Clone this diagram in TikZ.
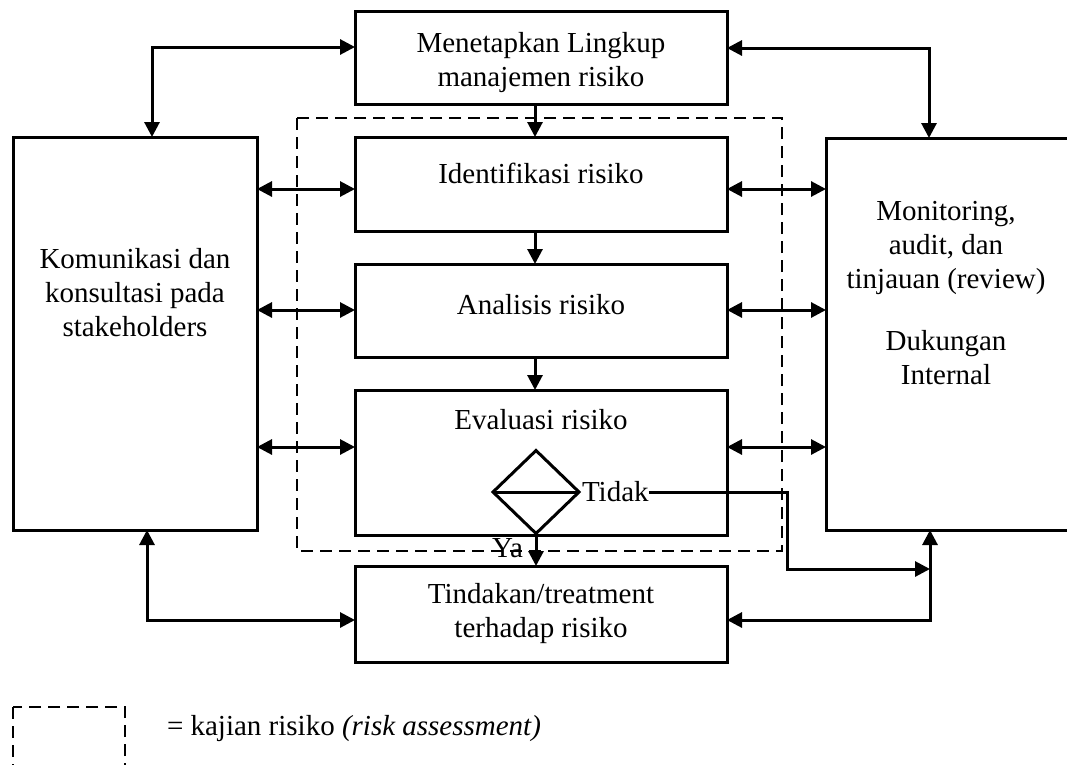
\documentclass[tikz,border=0pt]{standalone}
\usepackage{fontspec}
\setmainfont{Liberation Serif}
\usetikzlibrary{arrows.meta,shapes.geometric}
\begin{document}
\begin{tikzpicture}[x=1pt,y=-1pt,
  line width=3pt,
  every node/.style={font=\fontsize{29}{34}\selectfont},
  box/.style={draw, line width=3pt, inner sep=0pt, outer sep=0pt, anchor=north west},
  lbl/.style={inner sep=0pt, outer sep=0pt, align=center, anchor=north},
  word/.style={inner sep=0pt, outer sep=0pt, anchor=base west},
  arr/.style={-{Triangle[length=15pt,width=15pt]}},
  darr/.style={{Triangle[length=15pt,width=15pt]}-{Triangle[length=15pt,width=15pt]}},
  assess/.style={draw, line width=2.6pt, dash pattern=on 12pt off 7pt}]
\useasboundingbox (0,0) rectangle (1067,764);
\clip (0,0) rectangle (1067,764);

% main column boxes
\node[box, minimum width=372pt, minimum height=93pt] (top) at (355,11) {};
\node[box, minimum width=372pt, minimum height=94pt] (ident) at (355,137) {};
\node[box, minimum width=372pt, minimum height=93pt] (anal) at (355,264) {};
\node[box, minimum width=372pt, minimum height=145pt] (eval) at (355,390) {};
\node[box, minimum width=372pt, minimum height=96pt] (treat) at (355,566) {};

% side boxes
\node[box, minimum width=244pt, minimum height=393pt] (comm) at (13,137) {};
\node[box, minimum width=260pt, minimum height=392pt] (mon) at (826,138) {};

% labels (each first line carries a strut, so the node top sits 23.8pt above its baseline)
\node[lbl] (toptext) at (541,28.2) {\strut Menetapkan Lingkup\\manajemen risiko};
\node[lbl] (identtext) at (541,159.2) {\strut Identifikasi risiko};
\node[lbl] (analtext) at (541,291) {\strut Analisis risiko};
\node[lbl] (evaltext) at (541,406) {\strut Evaluasi risiko};
\node[lbl] (treattext) at (541,580) {\strut Tindakan/treatment\\terhadap risiko};
\node[lbl] (commtext) at (135,245) {\strut Komunikasi dan\\konsultasi pada\\stakeholders};
\node[lbl] (montext) at (946,197) {\strut Monitoring,\\audit, dan\\tinjauan (review)\\[28pt]Dukungan\\Internal};

% decision
\node[draw, diamond, minimum width=86pt, minimum height=83pt, inner sep=0pt, outer sep=0pt, line width=3pt] (dia) at (536,492) {};
\draw (dia.west) -- (dia.east);
\node[word] (tidak) at (582,501) {Tidak};
\node[word] (ya) at (492,557) {Ya};

% risk assessment region
\draw[assess] (297,118) rectangle (782,551);

% junction points
\coordinate (tl) at (152,47);
\coordinate (tr) at (929,48);
\coordinate (bl) at (147,620);
\coordinate (br) at (930,620);
\coordinate (tbend) at (787,569);

% flow down the column
\draw[arr] (top.south -| 535,0) -- (ident.north -| 535,0);
\draw[arr] (ident.south -| 535,0) -- (anal.north -| 535,0);
\draw[arr] (anal.south -| 535,0) -- (eval.north -| 535,0);
\draw[arr] (dia.south) -- (treat.north -| dia.south);
\draw[arr] (dia.center -| tidak.east) -| (tbend) -- (tbend -| br);

% links to the top box
\draw[darr] (tl -| top.west) -| (comm.north -| tl);
\draw[darr] (tr -| top.east) -| (mon.north -| tr);

% links to the treatment box
\draw[darr] (comm.south -| bl) |- (bl -| treat.west);
\draw[darr] (mon.south -| br) |- (br -| treat.east);

% side links
\draw[darr] (comm.east |- 0,189) -- (ident.west |- 0,189);
\draw[darr] (comm.east |- 0,310) -- (anal.west |- 0,310);
\draw[darr] (comm.east |- 0,447) -- (eval.west |- 0,447);
\draw[darr] (ident.east |- 0,189) -- (mon.west |- 0,189);
\draw[darr] (anal.east |- 0,310) -- (mon.west |- 0,310);
\draw[darr] (eval.east |- 0,447) -- (mon.west |- 0,447);

% legend
\draw[assess] (13,707) rectangle (125,780);
\node[word] (legend) at (167,735) {= kajian risiko \textit{(risk assessment)}};
\end{tikzpicture}
\end{document}
